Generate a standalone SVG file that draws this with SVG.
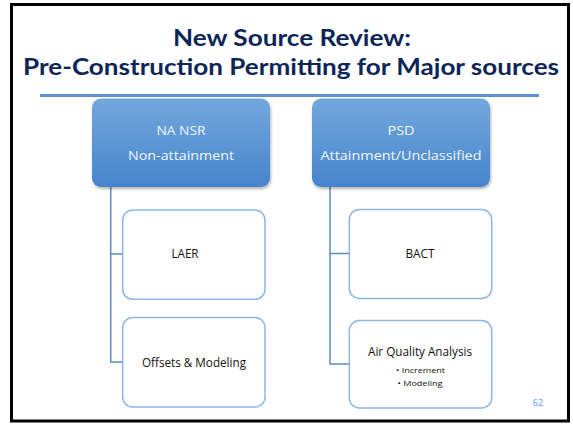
<svg xmlns="http://www.w3.org/2000/svg" width="573" height="424" viewBox="0 0 573 424">
  <defs>
    <linearGradient id="headFill" x1="0" y1="0" x2="0" y2="1">
      <stop offset="0" stop-color="#73a8dd"/>
      <stop offset="1" stop-color="#4684cb"/>
    </linearGradient>
    <filter id="shadow" x="-10%" y="-10%" width="125%" height="130%">
      <feDropShadow dx="1" dy="2" stdDeviation="1.5" flood-color="#000" flood-opacity="0.3"/>
    </filter>
    <style>
      .title { font-family: Lato, "Open Sans", "Liberation Sans", sans-serif; font-weight: bold; font-size: 22.5px; fill: #0e2558; text-anchor: middle; }
      .head rect { fill: url(#headFill); filter: url(#shadow); }
      .head text { font-family: "Open Sans", "Noto Sans", "Liberation Sans", sans-serif; font-size: 13px; fill: #f2f7fc; text-anchor: middle; }
      .item rect { fill: #ffffff; stroke: #8cb7e7; stroke-width: 1.5; }
      .item text { font-family: "Open Sans", "Noto Sans", "Liberation Sans", sans-serif; font-size: 12px; fill: #111111; text-anchor: middle; }
      .item text.sub { font-size: 8px; }
      .wire { fill: none; stroke: #5a8ac6; stroke-width: 1.5; }
    </style>
  </defs>

  <!-- slide frame -->
  <rect x="11.5" y="4.5" width="557" height="416.5" fill="#ffffff" stroke="#000000" stroke-width="3"/>

  <!-- heading -->
  <text class="title" x="292" y="46" textLength="238" lengthAdjust="spacingAndGlyphs">New Source Review:</text>
  <text class="title" x="291" y="74.5" textLength="536" lengthAdjust="spacingAndGlyphs">Pre-Construction Permitting for Major sources</text>
  <rect x="40" y="94" width="499" height="3" fill="#5b8fd6"/>

  <!-- connectors -->
  <g id="connectors">
    <path class="wire" d="M110.7 187 V362 H122.7 M110.7 254 H122.7"/>
    <path class="wire" d="M330 187 V364 H349.3 M330 253.5 H349.3"/>
  </g>

  <!-- top level -->
  <g id="na-nsr" class="head">
    <rect x="92" y="98.5" width="178" height="88.5" rx="9"/>
    <text x="181" y="135" textLength="49" lengthAdjust="spacingAndGlyphs">NA NSR</text>
    <text x="181" y="160" textLength="106" lengthAdjust="spacingAndGlyphs">Non-attainment</text>
  </g>
  <g id="psd" class="head">
    <rect x="312" y="98.5" width="178" height="88.5" rx="9"/>
    <text x="401" y="135" textLength="27" lengthAdjust="spacingAndGlyphs">PSD</text>
    <text x="401" y="160" textLength="161" lengthAdjust="spacingAndGlyphs">Attainment/Unclassified</text>
  </g>

  <!-- second level -->
  <g id="laer" class="item">
    <rect x="122.7" y="210" width="142.3" height="89.3" rx="10"/>
    <text x="185" y="258" textLength="27" lengthAdjust="spacingAndGlyphs">LAER</text>
  </g>
  <g id="offsets" class="item">
    <rect x="122.7" y="317.5" width="142.3" height="89.5" rx="10"/>
    <text x="194" y="366.5" textLength="104" lengthAdjust="spacingAndGlyphs">Offsets &amp; Modeling</text>
  </g>
  <g id="bact" class="item">
    <rect x="349.3" y="209.5" width="142.4" height="89" rx="10"/>
    <text x="420" y="257.5" textLength="29" lengthAdjust="spacingAndGlyphs">BACT</text>
  </g>
  <g id="aqa" class="item">
    <rect x="349.3" y="320.5" width="142.4" height="87.5" rx="10"/>
    <text x="420" y="355.5" textLength="104" lengthAdjust="spacingAndGlyphs">Air Quality Analysis</text>
    <text class="sub" x="420.5" y="372.5" textLength="49" lengthAdjust="spacingAndGlyphs">• Increment</text>
    <text class="sub" x="420" y="385.5" textLength="45" lengthAdjust="spacingAndGlyphs">• Modeling</text>
  </g>

  <!-- slide number -->
  <text x="538" y="405.5" font-family="Open Sans, Noto Sans, Liberation Sans, sans-serif" font-size="9" fill="#4f9cea" text-anchor="middle">62</text>
</svg>
